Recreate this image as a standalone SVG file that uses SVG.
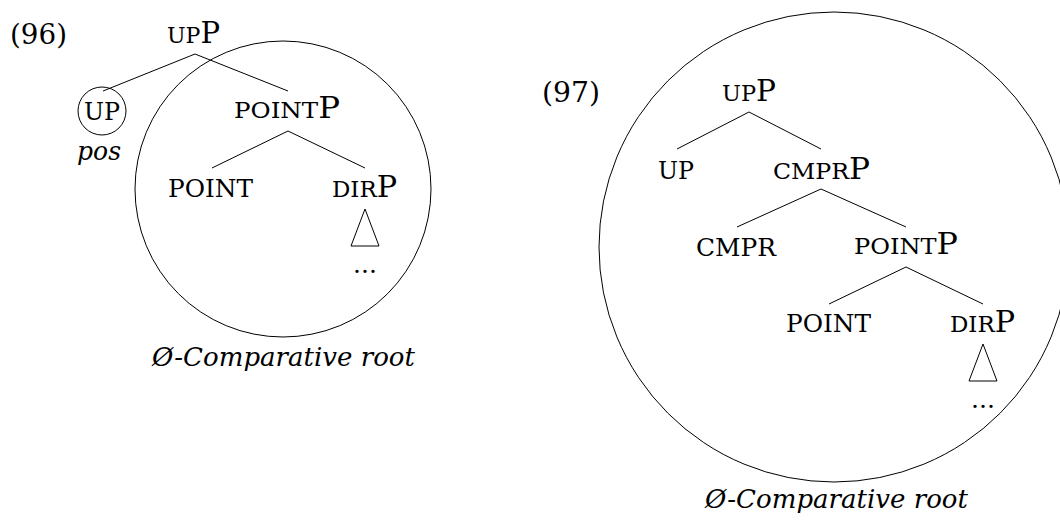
<svg xmlns="http://www.w3.org/2000/svg" width="1060" height="521" viewBox="0 0 1060 521">
<style>
text{font-family:"DejaVu Serif","Liberation Serif",serif;fill:#000}
.sc{font-size:22px}
.big{font-size:29px}
.head{font-size:25px}
.num{font-size:28px}
.it{font-style:italic;font-size:26px}
.ln{stroke:#000;stroke-width:1;fill:none}
</style>
<rect width="1060" height="521" fill="#fff"/>
<g id="connectors">
<path class="ln" d="M195,54L103,91M195,54L288,91"/>
<path class="ln" d="M288,131L212,168M288,131L365,168"/>
<path class="ln" d="M749,112L677,149M749,112L821,149"/>
<path class="ln" d="M821,189L737,227M821,189L906,227"/>
<path class="ln" d="M906,267L829,304M906,267L983,304"/>
</g>
<g id="ex96">
<text id="label96" class="num" x="10" y="44" textLength="57" lengthAdjust="spacingAndGlyphs">(96)</text>
<circle id="region96" class="ln" cx="283" cy="189" r="148"/>
<g id="n96-UPP"><text x="167" y="43" textLength="53" lengthAdjust="spacingAndGlyphs"><tspan class="sc">UP</tspan><tspan class="big">P</tspan></text></g>
<g id="n96-UP"><circle class="ln" cx="102" cy="111" r="24"/><text class="head" x="84" y="120" textLength="36" lengthAdjust="spacingAndGlyphs">UP</text><text class="it" x="77" y="160" textLength="44" lengthAdjust="spacingAndGlyphs">pos</text></g>
<g id="n96-POINTP"><text x="234" y="118" textLength="106" lengthAdjust="spacingAndGlyphs"><tspan class="sc">POINT</tspan><tspan class="big">P</tspan></text></g>
<g id="n96-POINT"><text class="head" x="168" y="197" textLength="85" lengthAdjust="spacingAndGlyphs">POINT</text></g>
<g id="n96-DIRP"><text x="332" y="197" textLength="65" lengthAdjust="spacingAndGlyphs"><tspan class="sc">DIR</tspan><tspan class="big">P</tspan></text><path class="ln" d="M365,209L351,246L379,246Z"/><text class="head" x="365" y="273" text-anchor="middle">...</text></g>
<text id="cap96" class="it" x="152" y="366" textLength="263" lengthAdjust="spacingAndGlyphs">Ø-Comparative root</text>
</g>
<g id="ex97">
<text id="label97" class="num" x="542" y="102" textLength="58" lengthAdjust="spacingAndGlyphs">(97)</text>
<circle id="region97" class="ln" cx="834" cy="247" r="235"/>
<g id="n97-UPP"><text x="722" y="101" textLength="54" lengthAdjust="spacingAndGlyphs"><tspan class="sc">UP</tspan><tspan class="big">P</tspan></text></g>
<g id="n97-UP"><text class="head" x="658" y="179" textLength="36" lengthAdjust="spacingAndGlyphs">UP</text></g>
<g id="n97-CMPRP"><text x="773" y="179" textLength="97" lengthAdjust="spacingAndGlyphs"><tspan class="sc">CMPR</tspan><tspan class="big">P</tspan></text></g>
<g id="n97-CMPR"><text class="head" x="696" y="256" textLength="80" lengthAdjust="spacingAndGlyphs">CMPR</text></g>
<g id="n97-POINTP"><text x="854" y="254" textLength="104" lengthAdjust="spacingAndGlyphs"><tspan class="sc">POINT</tspan><tspan class="big">P</tspan></text></g>
<g id="n97-POINT"><text class="head" x="786" y="332" textLength="85" lengthAdjust="spacingAndGlyphs">POINT</text></g>
<g id="n97-DIRP"><text x="950" y="332" textLength="65" lengthAdjust="spacingAndGlyphs"><tspan class="sc">DIR</tspan><tspan class="big">P</tspan></text><path class="ln" d="M983,344L969,381L997,381Z"/><text class="head" x="983" y="408" text-anchor="middle">...</text></g>
<text id="cap97" class="it" x="705" y="508" textLength="263" lengthAdjust="spacingAndGlyphs">Ø-Comparative root</text>
</g>
</svg>
